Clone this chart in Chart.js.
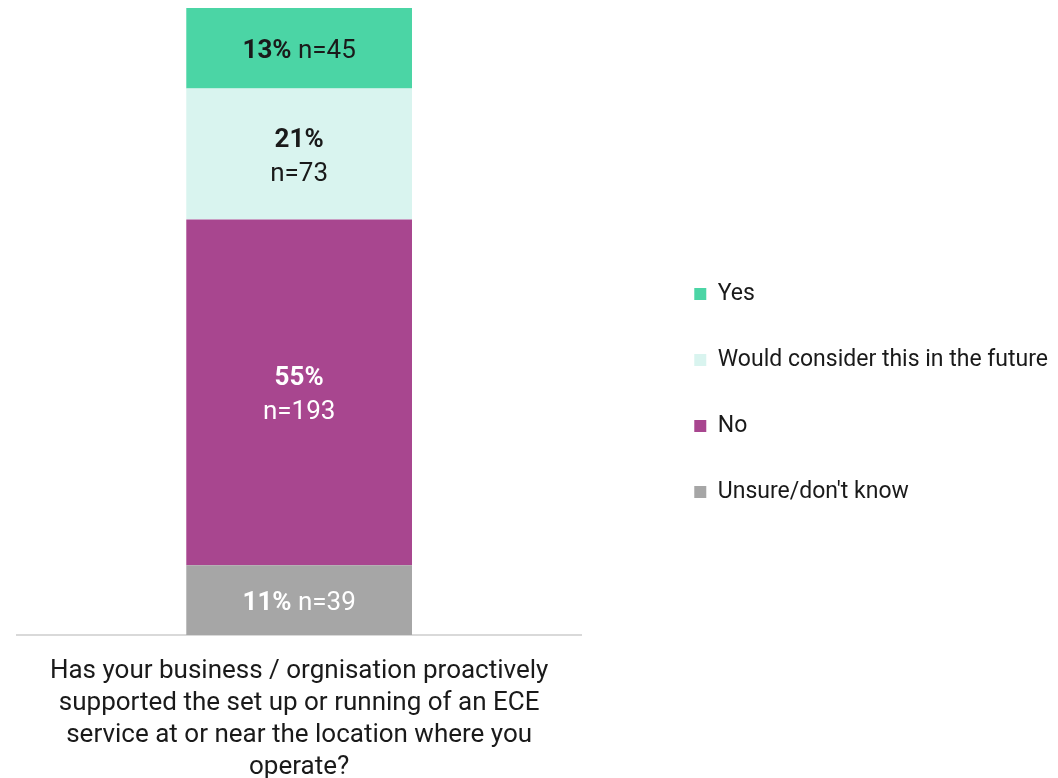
<!DOCTYPE html>
<html>
<head>
<meta charset="utf-8">
<script src="https://cdn.jsdelivr.net/npm/chart.js@4.4.1/dist/chart.umd.min.js"></script>
<style>
  body { margin: 0; background: #fff; }
  #wrap { width: 1058px; height: 778px; }
</style>
</head>
<body>
<div id="wrap"><canvas id="ece"></canvas></div>
<script>
// Survey question (split across lines as on the axis)
const question = [
    'Has your business / orgnisation proactively',
    'supported the set up or running of an ECE',
    'service at or near the location where you',
    'operate?'
];

// Responses, bottom of the stack first
const answers = ['Unsure/don\'t know', 'No', 'Would consider this in the future', 'Yes'];
const counts = [39, 193, 73, 45];
const colours = ['#a6a6a6', '#a8468f', '#d9f4ef', '#4bd5a5'];
const labelColours = ['#ffffff', '#ffffff', '#1a1a1a', '#1a1a1a'];

const total = counts.reduce((a, b) => a + b, 0);
const FONT = 'Roboto, "Noto Sans", sans-serif';

// Writes "NN%" in bold plus "n=NN" on each bar segment
const segmentLabels = {
    id: 'segmentLabels',
    afterDatasetsDraw(chart) {
        const ctx = chart.ctx;
        ctx.save();
        ctx.textBaseline = 'middle';
        ctx.textAlign = 'left';
        chart.data.datasets.forEach((ds, i) => {
            const meta = chart.getDatasetMeta(i);
            meta.data.forEach((bar, j) => {
                const v = ds.data[j];
                const pct = Math.round(v / total * 100) + '%';
                const n = 'n=' + v;
                const mid = (bar.y + bar.base) / 2;
                const h = Math.abs(bar.base - bar.y);
                ctx.fillStyle = ds.labelColor;
                if (h < 100) {
                    // short segment: both parts on one line
                    ctx.font = 'bold 26px ' + FONT;
                    const w1 = ctx.measureText(pct).width;
                    ctx.font = '26px ' + FONT;
                    const w2 = ctx.measureText(' ' + n).width;
                    const x0 = bar.x - (w1 + w2) / 2;
                    ctx.font = 'bold 26px ' + FONT;
                    ctx.fillText(pct, x0, mid + 3);
                    ctx.font = '26px ' + FONT;
                    ctx.fillText(' ' + n, x0 + w1, mid + 3);
                } else {
                    ctx.textAlign = 'center';
                    ctx.font = 'bold 26px ' + FONT;
                    ctx.fillText(pct, bar.x, mid - 14);
                    ctx.font = '26px ' + FONT;
                    ctx.fillText(n, bar.x, mid + 20);
                    ctx.textAlign = 'left';
                }
            });
        });
        ctx.restore();
    }
};

new Chart(document.getElementById('ece'), {
    type: 'bar',
    data: {
        labels: [question],
        datasets: answers.map((a, i) => ({
            label: a,
            data: [counts[i]],
            backgroundColor: colours[i],
            labelColor: labelColours[i],
            borderWidth: 0,
            barPercentage: 0.4,
            categoryPercentage: 1
        }))
    },
    options: {
        responsive: true,
        maintainAspectRatio: false,
        animation: false,
        layout: { padding: { top: 8, left: 17, right: 0, bottom: 0 } },
        scales: {
            x: {
                stacked: true,
                grid: { display: false, drawTicks: false },
                border: { color: '#d9d9d9', width: 2 },
                ticks: {
                    padding: 21,
                    maxRotation: 0,
                    color: '#1a1a1a',
                    font: { family: FONT, size: 26, lineHeight: 1.23 }
                },
                // labels are clipped to the scale box, so keep it down to the canvas edge
                afterFit(scale) { scale.height = 143; }
            },
            y: {
                stacked: true,
                min: 0,
                max: total,
                position: 'right',
                grid: { display: false },
                border: { display: false },
                ticks: { display: false },
                // empty strip between the plot and the legend
                afterFit(scale) { scale.width = 70; }
            }
        },
        plugins: {
            tooltip: { enabled: false },
            legend: {
                position: 'right',
                reverse: true,
                maxWidth: 480,
                labels: {
                    boxWidth: 12,
                    boxHeight: 12,
                    padding: 43,
                    color: '#1a1a1a',
                    font: { family: FONT, size: 23 }
                }
            }
        }
    },
    plugins: [segmentLabels]
});
</script>
</body>
</html>
